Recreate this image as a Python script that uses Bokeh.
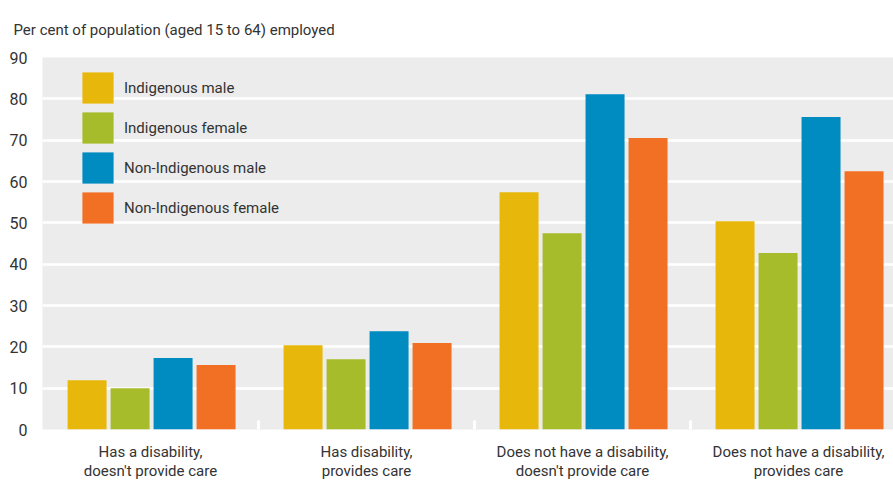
from bokeh.plotting import figure
from bokeh.models import Range1d, FixedTicker, Legend, LegendItem, ColumnDataSource, Title
from bokeh.transform import dodge
from bokeh.embed import file_html
from bokeh.resources import INLINE

title_text = "Per cent of population (aged 15 to 64) employed"
categories = ["Has a disability,\ndoesn't provide care",
              "Has disability,\nprovides care",
              "Does not have a disability,\ndoesn't provide care",
              "Does not have a disability,\nprovides care"]
series_names = ["Indigenous male", "Indigenous female", "Non-Indigenous male", "Non-Indigenous female"]
indigenous_male = [11.9, 20.4, 57.4, 50.4]
indigenous_female = [10.0, 17.0, 47.5, 42.7]
non_indigenous_male = [17.3, 23.8, 81.1, 75.6]
non_indigenous_female = [15.6, 20.9, 70.5, 62.5]
y_ticks = [0, 10, 20, 30, 40, 50, 60, 70, 80, 90]
colors = ["#E7B80B", "#A7BC2B", "#008BC1", "#F27024"]

FONT = "Roboto"
TXT = "#333333"

centers = [i + 0.5 for i in range(len(categories))]
src = ColumnDataSource(dict(x=centers, s0=indigenous_male, s1=indigenous_female,
                            s2=non_indigenous_male, s3=non_indigenous_female))

p = figure(width=893, height=483, output_backend="svg", toolbar_location=None,
           x_range=Range1d(0, 3.94), y_range=Range1d(0, 90),
           min_border_left=42, min_border_right=0, min_border_top=57, min_border_bottom=54)
p.background_fill_color = "#ECECEC"
p.border_fill_color = "white"
p.outline_line_color = None

step = 43 / 216
width = 39 / 216
offsets = [-1.5 * step, -0.5 * step, 0.5 * step, 1.5 * step]
renderers = []
for k, col in enumerate(["s0", "s1", "s2", "s3"]):
    r = p.vbar(x=dodge("x", offsets[k] + 0.005, range=p.x_range), top=col, width=width,
               source=src, fill_color=colors[k], line_color=None)
    renderers.append(r)

# boundary ticks between groups
bounds = list(range(1, len(categories)))
p.segment(x0=bounds, y0=[0] * len(bounds), x1=bounds, y1=[2.2] * len(bounds),
          line_color="white", line_width=3)

# x axis
p.xaxis.ticker = FixedTicker(ticks=centers)
p.xaxis.major_label_overrides = {c: lab for c, lab in zip(centers, categories)}
p.xaxis.axis_line_color = None
p.xaxis.major_tick_line_color = None
p.xaxis.minor_tick_line_color = None
p.xaxis.major_label_text_font = FONT
p.xaxis.major_label_text_font_size = "15px"
p.xaxis.major_label_text_color = TXT
p.xaxis.major_label_text_line_height = 1.1
p.xaxis.major_label_standoff = 7

# y axis
p.yaxis.ticker = FixedTicker(ticks=y_ticks)
p.yaxis.axis_line_color = None
p.yaxis.major_tick_line_color = None
p.yaxis.minor_tick_line_color = None
p.yaxis.major_label_text_font = FONT
p.yaxis.major_label_text_font_size = "16px"
p.yaxis.major_label_text_color = TXT
p.yaxis.major_label_standoff = 9

p.xgrid.grid_line_color = None
p.ygrid.grid_line_color = "white"
p.ygrid.grid_line_width = 2.5

legend = Legend(items=[LegendItem(label=n, renderers=[r]) for n, r in zip(series_names, renderers)],
                location=(36, 202), orientation="vertical",
                glyph_width=39, glyph_height=39, spacing=1, padding=0, margin=0,
                label_standoff=7, label_text_font=FONT, label_text_font_size="15px",
                label_text_color=TXT, background_fill_alpha=0, border_line_color=None)
p.add_layout(legend, "center")

t = Title(text=title_text, align="left", vertical_align="bottom",
          text_font=FONT, text_font_size="15px", text_font_style="normal",
          text_color=TXT, offset=-29, standoff=37)
p.add_layout(t, "above")

open("out.html", "w").write(file_html(p, INLINE))
